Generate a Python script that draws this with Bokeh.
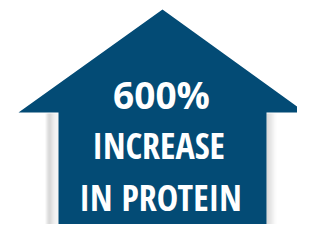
from bokeh.plotting import figure
from bokeh.models import Range1d
from bokeh.core.properties import value
from bokeh.embed import file_html
from bokeh.resources import INLINE

# content
headline = ["600%"]
lines = ["INCREASE", "IN PROTEIN"]

# house/arrow outline (reference pixel coordinates)
arrow_x = [162, 305, 266, 266, 58, 58, 18]
arrow_y = [9, 112, 112, 245, 245, 112, 112]

BLUE = "#034b75"

p = figure(width=297, height=224, output_backend="svg", toolbar_location=None,
           x_range=Range1d(0, 297), y_range=Range1d(224, 0),
           min_border=0)
p.axis.visible = False
p.grid.visible = False
p.outline_line_color = None
p.background_fill_color = "white"
p.border_fill_color = "white"

# soft shadows beside the shaft
left_cols = ["#f4f4f4", "#e6e6e6", "#d8d8d8", "#cfcfcf", "#cccccc", "#d2d2d2", "#dadada",
             "#e2e2e2", "#e8e8e8", "#ededed", "#f0f0f0", "#f2f2f2", "#f4f4f4"]
for i, c in enumerate(left_cols):
    p.quad(left=45 + i, right=46 + i, top=113, bottom=245, fill_color=c, line_color=None)
right_cols = ["#cfcfcf", "#d2d2d2", "#d6d6d6", "#dbdbdb", "#e0e0e0", "#e6e6e6",
              "#ececec", "#f2f2f2", "#f7f7f7", "#fbfbfb"]
for i, c in enumerate(right_cols):
    p.quad(left=266 + i, right=267 + i, top=113, bottom=245, fill_color=c, line_color=None)

p.patch(arrow_x, arrow_y, fill_color=BLUE, line_color=None)

p.text(x=[161], y=[94], text=headline, text_color="white",
       text_font=value("Open Sans"), text_font_style="bold", text_font_size="37px",
       text_align="center", text_baseline="middle")
p.text(x=[158, 160], y=[145, 197], text=lines, text_color="white",
       text_font=value("Open Sans Condensed"), text_font_style="bold", text_font_size="36px",
       text_align="center", text_baseline="middle")

open("out.html", "w").write(file_html(p, INLINE))
